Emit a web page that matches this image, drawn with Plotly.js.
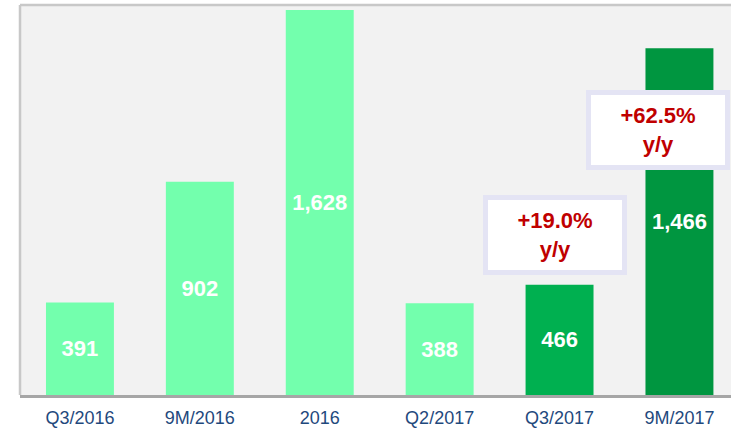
<!DOCTYPE html>
<html>
<head>
<meta charset="utf-8">
<script src="https://cdn.plot.ly/plotly-3.0.1.min.js"></script>
<style>html,body{margin:0;padding:0;background:#fff;}#chart{width:731px;height:430px;}</style>
</head>
<body>
<div id="chart"></div>
<script>
const categories = ["Q3/2016", "9M/2016", "2016", "Q2/2017", "Q3/2017", "9M/2017"];
const values = [391, 902, 1628, 388, 466, 1466];
const barColors = ["#73FFAD", "#73FFAD", "#73FFAD", "#73FFAD", "#00B050", "#009640"];
const growthLabels = ["+19.0%<br>y/y", "+62.5%<br>y/y"];

const fontFam = "Arial, 'Liberation Sans', sans-serif";

const trace = {
  type: "bar",
  x: categories,
  y: values,
  marker: {color: barColors, line: {width: 0}},
  texttemplate: "%{y:,.0f}",
  textposition: "inside",
  insidetextanchor: "middle",
  constraintext: "none",
  textfont: {family: fontFam, size: 22, color: "#FFFFFF", weight: 700},
  hoverinfo: "skip"
};

const boxStyle = {
  xref: "paper", yref: "paper", showarrow: false,
  bgcolor: "#FFFFFF", bordercolor: "#E4E4F4", borderwidth: 5, borderpad: 0,
  width: 134, height: 70, align: "center", valign: "middle",
  font: {family: fontFam, size: 22, color: "#C00000", weight: 700}
};

const layout = {
  width: 731, height: 430,
  margin: {l: 20, r: 0, t: 5, b: 35},
  paper_bgcolor: "#FFFFFF",
  plot_bgcolor: "#F2F2F2",
  bargap: 0.4333,
  showlegend: false,
  xaxis: {
    type: "category",
    range: [-0.5, 5.43],
    showgrid: false, zeroline: false,
    showline: true, linecolor: "#A6A6A6", linewidth: 2.5,
    ticks: "",
    ticklabelstandoff: 5,
    tickfont: {family: fontFam, size: 18, color: "#1F497D"},
    fixedrange: true
  },
  yaxis: {
    range: [0, 1649],
    showgrid: false, zeroline: false, showline: false,
    showticklabels: false, ticks: "",
    fixedrange: true
  },
  shapes: [
    {type: "line", xref: "paper", yref: "paper", x0: 0, x1: 1.02, y0: 1, y1: 1, line: {color: "#C8C8C8", width: 2.5}},
    {type: "line", xref: "paper", yref: "paper", x0: 0, x1: 0, y0: 0, y1: 1, line: {color: "#C8C8C8", width: 2.5}}
  ],
  annotations: [
    Object.assign({}, boxStyle, {x: 0.752, y: 0.41, xanchor: "center", yanchor: "middle", text: growthLabels[0]}),
    Object.assign({}, boxStyle, {x: 0.898, y: 0.679, xanchor: "center", yanchor: "middle", text: growthLabels[1]})
  ]
};

Plotly.newPlot("chart", [trace], layout, {displayModeBar: false, staticPlot: true});
</script>
</body>
</html>
